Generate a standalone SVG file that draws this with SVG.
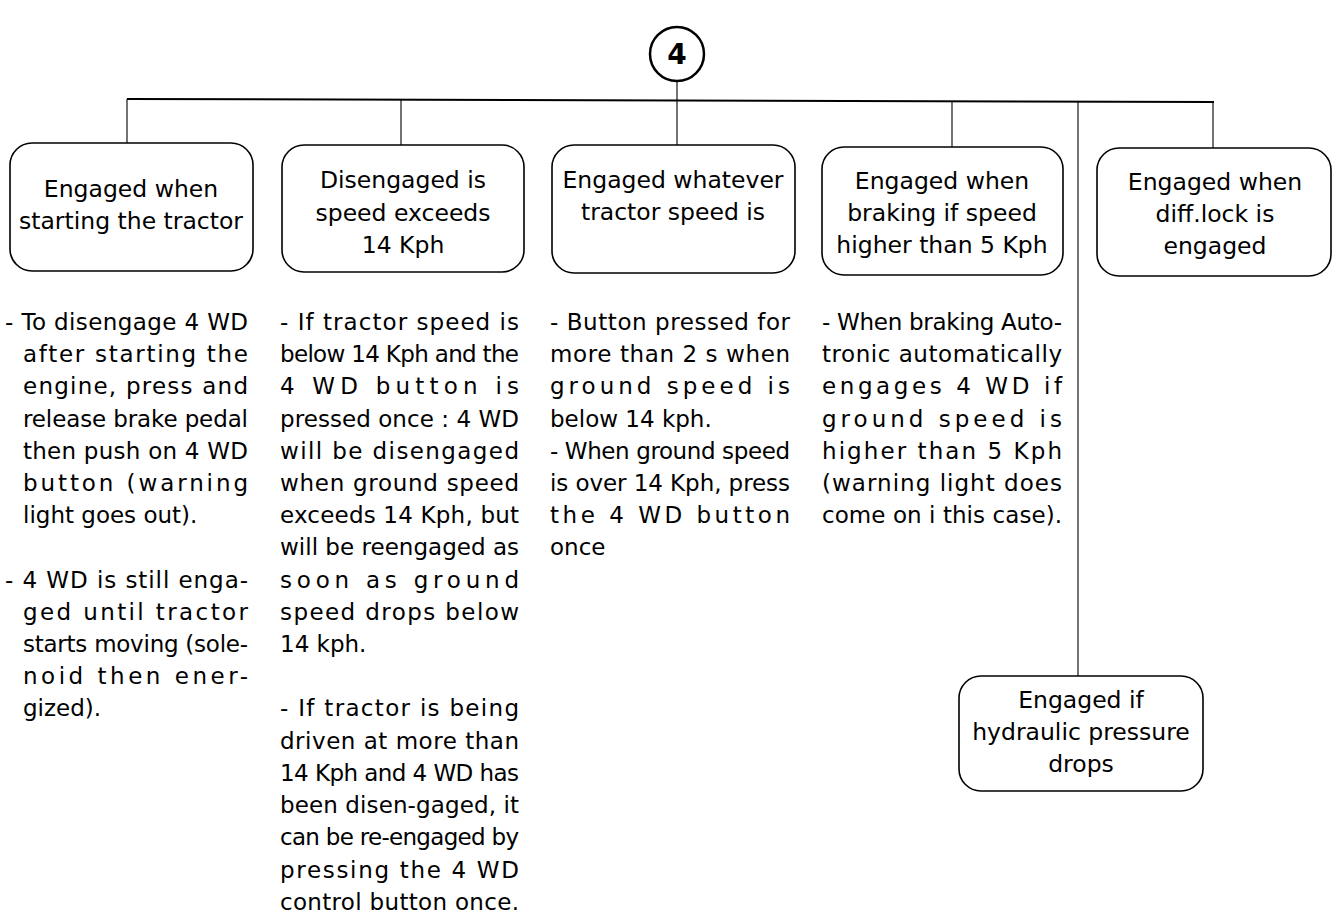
<svg xmlns="http://www.w3.org/2000/svg" width="1333" height="913" viewBox="0 0 1333 913">
<style>
.bg{fill:#fff}
.box{fill:#fff;stroke:#000;stroke-width:1.6}
.ln{stroke:#000;stroke-width:1.1;fill:none}
.hl{stroke:#000;stroke-width:2;fill:none}
.bt{font-family:"DejaVu Sans",Verdana,sans-serif;font-size:23.5px;text-anchor:middle;fill:#000}
.tx{font-family:"DejaVu Sans",Verdana,sans-serif;font-size:23px;fill:#000}
.num{font-family:"DejaVu Sans",Verdana,sans-serif;font-size:28px;font-weight:bold;text-anchor:middle;fill:#000}
</style>
<rect class="bg" x="0" y="0" width="1333" height="913"/>
<g id="connectors">
<line class="hl" x1="127" y1="99" x2="1214" y2="102"/>
<line class="ln" x1="677" y1="81" x2="677" y2="145"/>
<line class="ln" x1="127" y1="99" x2="127" y2="143"/>
<line class="ln" x1="401" y1="100" x2="401" y2="145"/>
<line class="ln" x1="952" y1="101" x2="952" y2="147"/>
<line class="ln" x1="1078" y1="101" x2="1078" y2="676"/>
<line class="ln" x1="1213" y1="102" x2="1213" y2="148"/>
</g>
<g id="n4">
<circle cx="677" cy="54" r="27" fill="#fff" stroke="#000" stroke-width="2.5"/>
<text class="num" x="677" y="64">4</text>
</g>
<g id="box1">
<rect class="box" x="10" y="143" width="243" height="128" rx="22"/>
<text class="bt" x="131" y="197">Engaged when</text>
<text class="bt" x="131" y="229">starting the tractor</text>
</g>
<g id="box2">
<rect class="box" x="282" y="145" width="242" height="127" rx="22"/>
<text class="bt" x="403" y="188">Disengaged is</text>
<text class="bt" x="403" y="221">speed exceeds</text>
<text class="bt" x="403" y="253">14 Kph</text>
</g>
<g id="box3">
<rect class="box" x="552" y="145" width="243" height="128" rx="22"/>
<text class="bt" x="673" y="188">Engaged whatever</text>
<text class="bt" x="673" y="220">tractor speed is</text>
</g>
<g id="box4">
<rect class="box" x="822" y="147" width="241" height="128" rx="22"/>
<text class="bt" x="942" y="189">Engaged when</text>
<text class="bt" x="942" y="221">braking if speed</text>
<text class="bt" x="942" y="253">higher than 5 Kph</text>
</g>
<g id="box5">
<rect class="box" x="1097" y="148" width="234" height="128" rx="22"/>
<text class="bt" x="1215" y="190">Engaged when</text>
<text class="bt" x="1215" y="222">diff.lock is</text>
<text class="bt" x="1215" y="254">engaged</text>
</g>
<g id="box6">
<rect class="box" x="959" y="676" width="244" height="115" rx="22"/>
<text class="bt" x="1081" y="708">Engaged if</text>
<text class="bt" x="1081" y="740">hydraulic pressure</text>
<text class="bt" x="1081" y="772">drops</text>
</g>
<g id="col1" class="tx">
<text x="5" y="330" textLength="243" lengthAdjust="spacing">- To disengage 4 WD</text>
<text x="23" y="362" textLength="225" lengthAdjust="spacing">after starting the</text>
<text x="23" y="394" textLength="225" lengthAdjust="spacing">engine, press and</text>
<text x="23" y="427" textLength="225" lengthAdjust="spacing">release brake pedal</text>
<text x="23" y="459" textLength="225" lengthAdjust="spacing">then push on 4 WD</text>
<text x="23" y="491" textLength="225" lengthAdjust="spacing">button (warning</text>
<text x="23" y="523">light goes out).</text>
<text x="5" y="588" textLength="243" lengthAdjust="spacing">- 4 WD is still enga-</text>
<text x="23" y="620" textLength="225" lengthAdjust="spacing">ged until tractor</text>
<text x="23" y="652" textLength="225" lengthAdjust="spacing">starts moving (sole-</text>
<text x="23" y="684" textLength="225" lengthAdjust="spacing">noid then ener-</text>
<text x="23" y="716">gized).</text>
</g>
<g id="col2" class="tx">
<text x="280" y="330" textLength="239" lengthAdjust="spacing">- If tractor speed is</text>
<text x="280" y="362" textLength="239" lengthAdjust="spacing">below 14 Kph and the</text>
<text x="280" y="394" textLength="239" lengthAdjust="spacing">4 WD button is</text>
<text x="280" y="427" textLength="239" lengthAdjust="spacing">pressed once : 4 WD</text>
<text x="280" y="459" textLength="239" lengthAdjust="spacing">will be disengaged</text>
<text x="280" y="491" textLength="239" lengthAdjust="spacing">when ground speed</text>
<text x="280" y="523" textLength="239" lengthAdjust="spacing">exceeds 14 Kph, but</text>
<text x="280" y="555" textLength="239" lengthAdjust="spacing">will be reengaged as</text>
<text x="280" y="588" textLength="239" lengthAdjust="spacing">soon as ground</text>
<text x="280" y="620" textLength="239" lengthAdjust="spacing">speed drops below</text>
<text x="280" y="652">14 kph.</text>
<text x="280" y="716" textLength="239" lengthAdjust="spacing">- If tractor is being</text>
<text x="280" y="749" textLength="239" lengthAdjust="spacing">driven at more than</text>
<text x="280" y="781" textLength="239" lengthAdjust="spacing">14 Kph and 4 WD has</text>
<text x="280" y="813" textLength="239" lengthAdjust="spacing">been disen-gaged, it</text>
<text x="280" y="845" textLength="239" lengthAdjust="spacing">can be re-engaged by</text>
<text x="280" y="878" textLength="239" lengthAdjust="spacing">pressing the 4 WD</text>
<text x="280" y="910" textLength="239" lengthAdjust="spacing">control button once.</text>
</g>
<g id="col3" class="tx">
<text x="550" y="330" textLength="240" lengthAdjust="spacing">- Button pressed for</text>
<text x="550" y="362" textLength="240" lengthAdjust="spacing">more than 2 s when</text>
<text x="550" y="394" textLength="240" lengthAdjust="spacing">ground speed is</text>
<text x="550" y="427">below 14 kph.</text>
<text x="550" y="459" textLength="240" lengthAdjust="spacing">- When ground speed</text>
<text x="550" y="491" textLength="240" lengthAdjust="spacing">is over 14 Kph, press</text>
<text x="550" y="523" textLength="240" lengthAdjust="spacing">the 4 WD button</text>
<text x="550" y="555">once</text>
</g>
<g id="col4" class="tx">
<text x="822" y="330" textLength="240" lengthAdjust="spacing">- When braking Auto-</text>
<text x="822" y="362" textLength="240" lengthAdjust="spacing">tronic automatically</text>
<text x="822" y="394" textLength="240" lengthAdjust="spacing">engages 4 WD if</text>
<text x="822" y="427" textLength="240" lengthAdjust="spacing">ground speed is</text>
<text x="822" y="459" textLength="240" lengthAdjust="spacing">higher than 5 Kph</text>
<text x="822" y="491" textLength="240" lengthAdjust="spacing">(warning light does</text>
<text x="822" y="523" textLength="240" lengthAdjust="spacing">come on i this case).</text>
</g>
</svg>
